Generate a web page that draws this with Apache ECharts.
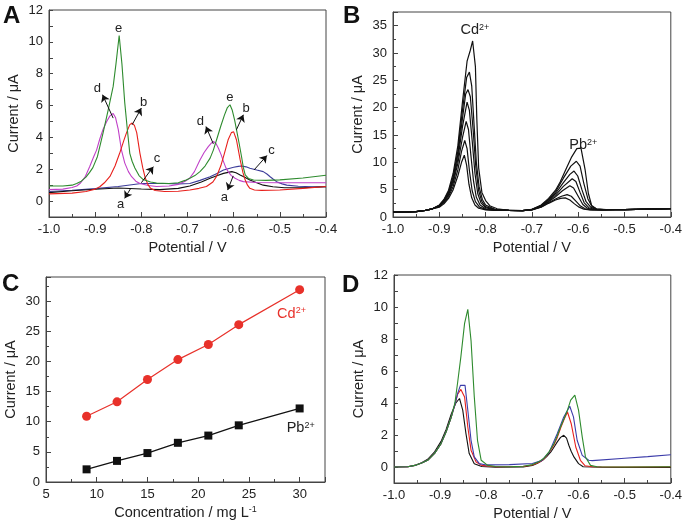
<!DOCTYPE html>
<html>
<head>
<meta charset="utf-8">
<script src="https://cdn.jsdelivr.net/npm/echarts@6/dist/echarts.min.js"></script>
<style>
  html, body { margin: 0; padding: 0; background: #fff; }
  #main { width: 685px; height: 526px; }
</style>
</head>
<body>
<div id="main"></div>
<script>
// ---- panel A: potential (V) vs current (uA), curves a-e
var aBlack = [[-1,0.53],[-0.95,0.65],[-0.9,0.74],[-0.85,0.82],[-0.8,0.76],[-0.76,0.72],[-0.72,0.8],[-0.695,0.95],[-0.67,1.2],[-0.651,1.43],[-0.635,1.6],[-0.622,1.74],[-0.604,1.85],[-0.595,1.78],[-0.586,1.64],[-0.575,1.48],[-0.565,1.32],[-0.55,1.15],[-0.536,1.0],[-0.515,0.9],[-0.49,0.84],[-0.45,0.84],[-0.4,0.9]];
var aRed = [[-1,0.45],[-0.95,0.5],[-0.92,0.6],[-0.9,0.75],[-0.89,0.9],[-0.88,1.15],[-0.868,1.55],[-0.857,2.2],[-0.847,3.0],[-0.838,3.8],[-0.832,4.3],[-0.825,4.8],[-0.82,4.9],[-0.815,4.75],[-0.81,4.3],[-0.803,3.0],[-0.797,2.1],[-0.792,1.5],[-0.786,1.05],[-0.78,0.8],[-0.77,0.66],[-0.75,0.6],[-0.72,0.62],[-0.695,0.7],[-0.675,0.8],[-0.659,0.92],[-0.645,1.2],[-0.637,1.55],[-0.628,2.2],[-0.62,3.0],[-0.612,3.85],[-0.605,4.3],[-0.6,4.35],[-0.594,3.85],[-0.586,2.6],[-0.58,1.8],[-0.575,1.32],[-0.57,1.0],[-0.565,0.8],[-0.555,0.7],[-0.54,0.67],[-0.5,0.7],[-0.45,0.8],[-0.4,0.92]];
var aBlue = [[-1,0.6],[-0.95,0.68],[-0.9,0.78],[-0.85,0.92],[-0.8,1.1],[-0.75,1.1],[-0.72,1.08],[-0.695,1.1],[-0.673,1.3],[-0.651,1.53],[-0.635,1.75],[-0.622,1.95],[-0.61,2.05],[-0.6,2.12],[-0.59,2.18],[-0.583,2.2],[-0.573,2.15],[-0.565,2.06],[-0.55,1.95],[-0.536,1.85],[-0.528,1.7],[-0.521,1.53],[-0.514,1.37],[-0.507,1.22],[-0.495,1.08],[-0.485,1.0],[-0.46,0.93],[-0.43,0.9],[-0.4,0.9]];
var aMagenta = [[-1,0.72],[-0.97,0.75],[-0.95,0.85],[-0.94,0.95],[-0.933,1.1],[-0.922,1.5],[-0.912,2.16],[-0.903,2.8],[-0.897,3.2],[-0.89,3.9],[-0.883,4.5],[-0.875,5.0],[-0.868,5.35],[-0.861,5.5],[-0.856,5.25],[-0.85,4.5],[-0.843,3.2],[-0.836,2.4],[-0.828,1.85],[-0.821,1.53],[-0.812,1.25],[-0.803,1.1],[-0.785,0.98],[-0.767,0.92],[-0.74,0.95],[-0.72,1.05],[-0.705,1.25],[-0.695,1.45],[-0.685,1.85],[-0.673,2.58],[-0.664,3.05],[-0.655,3.42],[-0.648,3.65],[-0.643,3.74],[-0.638,3.6],[-0.633,3.32],[-0.627,2.9],[-0.622,2.48],[-0.617,2.1],[-0.612,1.85],[-0.605,1.6],[-0.597,1.43],[-0.588,1.3],[-0.579,1.22],[-0.55,1.17],[-0.5,1.15],[-0.45,1.15],[-0.4,1.15]];
var aGreen = [[-1,0.95],[-0.97,0.95],[-0.95,1.0],[-0.94,1.1],[-0.93,1.25],[-0.92,1.5],[-0.912,1.8],[-0.905,2.1],[-0.895,2.8],[-0.883,4.27],[-0.872,5.7],[-0.861,7.2],[-0.855,8.6],[-0.848,10.4],[-0.842,8.6],[-0.836,6.2],[-0.83,4.4],[-0.825,3.0],[-0.82,2.5],[-0.814,2.08],[-0.805,1.6],[-0.796,1.35],[-0.78,1.2],[-0.767,1.13],[-0.74,1.1],[-0.72,1.15],[-0.705,1.3],[-0.695,1.43],[-0.684,1.6],[-0.673,1.85],[-0.662,2.2],[-0.651,2.7],[-0.644,3.2],[-0.637,3.85],[-0.628,4.7],[-0.62,5.4],[-0.614,5.85],[-0.608,6.05],[-0.603,5.7],[-0.598,5.1],[-0.594,4.5],[-0.588,3.6],[-0.583,2.8],[-0.579,2.1],[-0.575,1.64],[-0.568,1.42],[-0.557,1.32],[-0.53,1.3],[-0.5,1.33],[-0.45,1.45],[-0.4,1.62]];
var aLabels = [['e',-0.849,10.85],['d',-0.895,7.1],['b',-0.795,6.2],['c',-0.766,2.65],['a',-0.845,-0.2],['d',-0.672,5.0],['e',-0.608,6.5],['b',-0.573,5.8],['c',-0.518,3.2],['a',-0.62,0.25]];
var aArrows = [[-0.861,5.21,-0.884,6.68],[-0.82,4.79,-0.8,5.84],[-0.8,1.15,-0.774,2.16],[-0.823,0.8,-0.836,0.17],[-0.644,3.59,-0.66,4.68],[-0.594,4.48,-0.579,5.42],[-0.556,1.95,-0.528,2.86],[-0.601,1.58,-0.613,0.69]];

// ---- panel B: 7 concentrations, Cd part and Pb part of each curve
var bStart = [[-1,0.9],[-0.97,0.92],[-0.95,1.0],[-0.93,1.2],[-0.915,1.5]];
var bMid = [[-0.75,1.2],[-0.72,1.18]];
var bEnd = [[-0.52,1.35],[-0.5,1.35],[-0.45,1.45],[-0.4,1.55]];
var bCd = [
  [[-0.9,1.8],[-0.89,2.4],[-0.88,3.4],[-0.87,5.0],[-0.86,7.5],[-0.852,10.0],[-0.846,11.3],[-0.841,9.5],[-0.836,6.0],[-0.83,3.5],[-0.823,2.2],[-0.815,1.6],[-0.8,1.3],[-0.78,1.2]],
  [[-0.9,1.9],[-0.89,2.6],[-0.88,3.7],[-0.87,5.6],[-0.86,8.6],[-0.852,12.0],[-0.845,14.0],[-0.84,12.5],[-0.835,8.5],[-0.829,4.8],[-0.822,2.8],[-0.813,1.8],[-0.8,1.4],[-0.78,1.2]],
  [[-0.9,2.0],[-0.89,2.8],[-0.88,4.0],[-0.87,6.2],[-0.86,9.8],[-0.85,14.5],[-0.842,17.5],[-0.837,16.0],[-0.832,11.5],[-0.826,6.5],[-0.82,3.6],[-0.812,2.2],[-0.8,1.5],[-0.78,1.25]],
  [[-0.9,2.0],[-0.89,2.9],[-0.88,4.2],[-0.87,6.6],[-0.86,10.6],[-0.85,16.5],[-0.84,21.0],[-0.835,19.5],[-0.829,14.0],[-0.823,8.0],[-0.817,4.3],[-0.81,2.6],[-0.8,1.7],[-0.78,1.3]],
  [[-0.9,2.1],[-0.89,3.0],[-0.88,4.4],[-0.87,7.0],[-0.86,11.4],[-0.85,18.0],[-0.843,22.5],[-0.838,23.3],[-0.833,22.0],[-0.827,16.0],[-0.821,9.0],[-0.815,4.8],[-0.808,2.8],[-0.8,1.9],[-0.78,1.35]],
  [[-0.9,2.1],[-0.89,3.1],[-0.88,4.6],[-0.87,7.4],[-0.86,12.0],[-0.85,19.5],[-0.841,25.5],[-0.835,26.5],[-0.83,24.0],[-0.825,17.0],[-0.82,10.0],[-0.814,5.5],[-0.807,3.2],[-0.8,2.2],[-0.78,1.4]],
  [[-0.9,2.2],[-0.89,3.2],[-0.88,4.9],[-0.87,8.0],[-0.86,13.0],[-0.85,21.0],[-0.84,28.5],[-0.833,30.5],[-0.828,32.2],[-0.822,27.5],[-0.819,18.0],[-0.815,9.0],[-0.808,4.5],[-0.8,3.0],[-0.79,2.0],[-0.775,1.5]]
];
var bPb = [
  [[-0.7,1.3],[-0.68,1.8],[-0.664,2.5],[-0.649,3.1],[-0.638,3.4],[-0.628,3.5],[-0.618,3.1],[-0.608,2.4],[-0.598,1.8],[-0.588,1.45],[-0.575,1.3],[-0.55,1.3]],
  [[-0.7,1.3],[-0.68,1.85],[-0.664,2.6],[-0.649,3.3],[-0.636,3.8],[-0.624,4.1],[-0.615,3.8],[-0.605,2.9],[-0.595,2.0],[-0.585,1.5],[-0.572,1.3],[-0.55,1.3]],
  [[-0.7,1.32],[-0.68,1.9],[-0.664,2.8],[-0.649,3.7],[-0.634,4.8],[-0.618,5.7],[-0.61,5.3],[-0.6,3.8],[-0.59,2.3],[-0.58,1.6],[-0.568,1.35],[-0.55,1.3]],
  [[-0.7,1.34],[-0.68,2.0],[-0.664,2.9],[-0.649,4.0],[-0.632,5.6],[-0.613,7.0],[-0.605,6.5],[-0.596,4.5],[-0.587,2.6],[-0.577,1.7],[-0.565,1.4],[-0.55,1.32]],
  [[-0.7,1.36],[-0.68,2.05],[-0.664,3.1],[-0.649,4.3],[-0.632,6.3],[-0.618,7.8],[-0.609,8.4],[-0.601,7.5],[-0.592,5.0],[-0.583,2.8],[-0.573,1.8],[-0.562,1.4],[-0.545,1.33]],
  [[-0.7,1.38],[-0.68,2.1],[-0.664,3.2],[-0.649,4.6],[-0.632,7.1],[-0.616,9.3],[-0.604,10.2],[-0.596,9.3],[-0.588,6.2],[-0.579,3.3],[-0.57,1.9],[-0.56,1.45],[-0.545,1.35]],
  [[-0.7,1.4],[-0.68,2.2],[-0.664,3.4],[-0.649,4.9],[-0.639,6.4],[-0.624,9.2],[-0.614,11.0],[-0.603,12.5],[-0.594,12.6],[-0.585,8.6],[-0.578,4.3],[-0.571,2.1],[-0.561,1.5],[-0.54,1.35]]
];

// ---- panel C: calibration
var concs = [9, 12, 15, 18, 21, 24, 30];
var cdPeak = [10.9, 13.3, 17.0, 20.3, 22.8, 26.1, 31.9];
var pbPeak = [2.1, 3.5, 4.8, 6.5, 7.7, 9.4, 12.2];

// ---- panel D: real samples
var dGreen = [[-1,0],[-0.97,0.02],[-0.955,0.1],[-0.94,0.25],[-0.927,0.42],[-0.912,0.85],[-0.898,1.46],[-0.887,2.2],[-0.876,3.1],[-0.868,4.0],[-0.862,5.3],[-0.855,6.9],[-0.847,8.98],[-0.84,9.85],[-0.833,7.9],[-0.826,4.4],[-0.819,1.67],[-0.811,0.42],[-0.797,0.1],[-0.78,0.03],[-0.75,0.02],[-0.72,0.05],[-0.7,0.15],[-0.685,0.35],[-0.675,0.55],[-0.664,0.95],[-0.653,1.46],[-0.646,1.95],[-0.639,2.5],[-0.631,3.05],[-0.624,3.55],[-0.617,4.18],[-0.608,4.49],[-0.6,3.55],[-0.592,1.88],[-0.585,0.63],[-0.574,0.1],[-0.56,0.02],[-0.5,0.0],[-0.4,0.02]];
var dBlue = [[-1,0],[-0.97,0.02],[-0.955,0.1],[-0.94,0.25],[-0.927,0.42],[-0.912,0.85],[-0.898,1.46],[-0.887,2.2],[-0.876,3.1],[-0.868,3.9],[-0.862,4.6],[-0.856,5.1],[-0.846,5.1],[-0.84,3.55],[-0.833,1.67],[-0.826,0.63],[-0.815,0.21],[-0.8,0.13],[-0.75,0.15],[-0.7,0.22],[-0.68,0.4],[-0.664,0.9],[-0.646,2.09],[-0.632,3.13],[-0.619,3.8],[-0.611,3.13],[-0.603,1.67],[-0.592,0.73],[-0.578,0.42],[-0.57,0.4],[-0.5,0.55],[-0.45,0.65],[-0.4,0.77]];
var dRed = [[-1,0],[-0.97,0.02],[-0.955,0.1],[-0.94,0.25],[-0.927,0.42],[-0.912,0.85],[-0.898,1.46],[-0.887,2.2],[-0.876,3.1],[-0.868,3.9],[-0.862,4.55],[-0.855,4.85],[-0.847,4.38],[-0.84,2.5],[-0.833,1.05],[-0.822,0.31],[-0.81,0.1],[-0.78,0.02],[-0.72,0.03],[-0.7,0.12],[-0.685,0.3],[-0.675,0.5],[-0.664,0.9],[-0.653,1.4],[-0.646,1.85],[-0.638,2.5],[-0.631,3.0],[-0.624,3.44],[-0.616,2.72],[-0.606,1.25],[-0.596,0.42],[-0.586,0.08],[-0.57,0.02],[-0.5,0.0],[-0.4,0.02]];
var dBlack = [[-1,0],[-0.97,0.02],[-0.955,0.1],[-0.94,0.27],[-0.927,0.48],[-0.912,0.95],[-0.898,1.6],[-0.887,2.35],[-0.876,3.3],[-0.866,4.0],[-0.858,4.28],[-0.851,3.55],[-0.844,2.09],[-0.837,0.84],[-0.826,0.21],[-0.81,0.03],[-0.78,-0.02],[-0.72,0.0],[-0.7,0.1],[-0.69,0.22],[-0.678,0.42],[-0.669,0.65],[-0.66,0.94],[-0.653,1.25],[-0.646,1.57],[-0.639,1.85],[-0.632,1.98],[-0.626,1.8],[-0.621,1.36],[-0.616,0.98],[-0.61,0.63],[-0.6,0.21],[-0.59,0.02],[-0.55,-0.02],[-0.5,-0.03],[-0.4,-0.03]];

var FONT = 'Liberation Sans';
var TXT = '#222';
var AXC = '#444';
var supRich = {
  sup: { fontSize: 9, verticalAlign: 'top', lineHeight: 10, fontFamily: FONT },
};

function xAxis(gi, min, max, iv, name, fmt, rich) {
  return {
    type: 'value', gridIndex: gi, min: min, max: max, interval: iv,
    name: name, nameLocation: 'middle', nameGap: 23,
    nameTextStyle: { color: TXT, fontSize: 14.5, fontFamily: FONT, rich: rich },
    axisLine: { show: true, onZero: false, lineStyle: { color: AXC } },
    axisTick: { show: true, inside: true, length: 5, lineStyle: { color: AXC } },
    minorTick: { show: true, splitNumber: 2, length: 3, lineStyle: { color: AXC } },
    splitLine: { show: false },
    axisLabel: { color: TXT, fontSize: 13, fontFamily: FONT, margin: 6, formatter: fmt }
  };
}
function yAxis(gi, min, max, iv, minor, fmt) {
  return {
    type: 'value', gridIndex: gi, min: min, max: max, interval: iv,
    name: 'Current / \u03bcA', nameLocation: 'middle', nameGap: 28,
    nameTextStyle: { color: TXT, fontSize: 14.5, fontFamily: FONT },
    axisLine: { show: true, onZero: false, lineStyle: { color: AXC } },
    axisTick: { show: true, inside: true, length: minor ? 5 : 4, lineStyle: { color: AXC } },
    minorTick: { show: minor, splitNumber: 2, length: 3, lineStyle: { color: AXC } },
    splitLine: { show: false },
    axisLabel: { color: TXT, fontSize: 13, fontFamily: FONT, margin: 6, formatter: fmt }
  };
}
var potFmt = function (v) { return v.toFixed(1); };
var evenFmt = function (v) { return (Math.round(v) % 2 === 0 && v >= 0) ? String(Math.round(v)) : ''; };
var fiveFmt = function (v) { return (Math.abs(v % 5) < 1e-6) ? String(v) : ''; };

function curve(gi, data, color, width, extra) {
  var s = {
    type: 'line', xAxisIndex: gi, yAxisIndex: gi, data: data,
    showSymbol: false, symbol: 'none', animation: false,
    lineStyle: { color: color, width: width || 1.1 }, itemStyle: { color: color }
  };
  if (extra) for (var k in extra) s[k] = extra[k];
  return s;
}

// annotations for panel A
var aMarkPoint = {
  symbol: 'circle', symbolSize: 0, silent: true,
  label: { show: true, position: 'inside', formatter: '{b}', color: TXT, fontSize: 13, fontFamily: FONT },
  data: aLabels.map(function (l) { return { name: l[0], coord: [l[1], l[2]] }; })
};
var aMarkLine = {
  silent: true, symbol: ['none', 'arrow'], symbolSize: 7, animation: false,
  label: { show: false },
  lineStyle: { color: '#111', width: 1, type: 'solid' },
  data: aArrows.map(function (a) { return [{ coord: [a[0], a[1]] }, { coord: [a[2], a[3]] }]; })
};

var series = [
  curve(0, aBlue, '#3c3c9a'),
  curve(0, aBlack, '#111111', 1.1, { markPoint: aMarkPoint, markLine: aMarkLine }),
  curve(0, aMagenta, '#c040c8'),
  curve(0, aRed, '#e8201c'),
  curve(0, aGreen, '#2e8b2e')
];

for (var j = 0; j < bCd.length; j++) {
  var full = bStart.concat(bCd[j], bMid, bPb[j], bEnd);
  var ex = null;
  if (j === 0) {
    ex = {
      markPoint: {
        symbol: 'circle', symbolSize: 0, silent: true,
        label: { show: true, position: 'inside', formatter: '{b}{sup|2+}', color: TXT, fontSize: 14.5, fontFamily: FONT, rich: supRich },
        data: [{ name: 'Cd', coord: [-0.823, 34.2] }, { name: 'Pb', coord: [-0.589, 13.1] }]
      }
    };
  }
  series.push(curve(1, full, '#111111', 1.2, ex));
}

function pairs(xs, ys) { return xs.map(function (x, i) { return [x, ys[i]]; }); }
series.push({
  type: 'line', xAxisIndex: 2, yAxisIndex: 2, data: pairs(concs, cdPeak), animation: false,
  symbol: 'circle', symbolSize: 9, lineStyle: { color: '#e8312a', width: 1.2 }, itemStyle: { color: '#e8312a' },
  markPoint: {
    symbol: 'circle', symbolSize: 0, silent: true,
    label: { show: true, position: 'inside', formatter: 'Cd{sup|2+}', color: '#e8312a', fontSize: 14.5, fontFamily: FONT, rich: supRich },
    data: [{ coord: [29.2, 27.9] }]
  }
});
series.push({
  type: 'line', xAxisIndex: 2, yAxisIndex: 2, data: pairs(concs, pbPeak), animation: false,
  symbol: 'rect', symbolSize: 8, lineStyle: { color: '#111', width: 1.2 }, itemStyle: { color: '#111' },
  markPoint: {
    symbol: 'circle', symbolSize: 0, silent: true,
    label: { show: true, position: 'inside', formatter: 'Pb{sup|2+}', color: TXT, fontSize: 14.5, fontFamily: FONT, rich: supRich },
    data: [{ coord: [30.1, 8.95] }]
  }
});

series.push(curve(3, dBlack, '#111111'));
series.push(curve(3, dRed, '#e8201c'));
series.push(curve(3, dBlue, '#3c3caa'));
series.push(curve(3, dGreen, '#2e8b2e'));

var gridBase = { show: true, borderColor: AXC, borderWidth: 1, backgroundColor: 'transparent' };
function grid(l, t, w, h) { return Object.assign({ left: l, top: t, width: w, height: h }, gridBase); }

var letter = function (t, x, y) {
  return { type: 'text', left: x, top: y, style: { text: t, fontSize: 24, fontWeight: 'bold', fontFamily: FONT, fill: '#111' } };
};

var option = {
  backgroundColor: '#fff',
  animation: false,
  grid: [grid(49, 10, 277, 207), grid(393, 12, 280, 205), grid(46, 277, 279, 205), grid(394, 275, 278, 208)],
  xAxis: [
    xAxis(0, -1, -0.4, 0.1, 'Potential / V', potFmt),
    xAxis(1, -1, -0.4, 0.1, 'Potential / V', potFmt),
    xAxis(2, 5, 32.5, 5, 'Concentration / mg L{sup|-1}', fiveFmt, { sup: { fontSize: 9, verticalAlign: 'top', lineHeight: 10, fontFamily: FONT } }),
    xAxis(3, -1, -0.4, 0.1, 'Potential / V', potFmt)
  ],
  yAxis: [
    yAxis(0, -1, 12, 1, false, evenFmt),
    yAxis(1, 0, 37.5, 5, true, fiveFmt),
    yAxis(2, 0, 34, 5, true, fiveFmt),
    yAxis(3, -1, 12, 1, false, evenFmt)
  ],
  graphic: [letter('A', 3, 4), letter('B', 343, 4), letter('C', 2, 272), letter('D', 342, 273)],
  series: series
};

var myChart = echarts.init(document.getElementById('main'));
myChart.setOption(option);
</script>
</body>
</html>
